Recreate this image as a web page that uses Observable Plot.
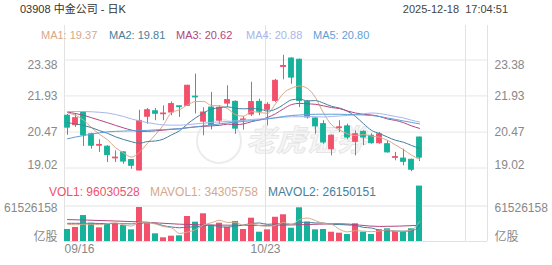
<!DOCTYPE html>
<html><head><meta charset="utf-8">
<script src="https://cdn.jsdelivr.net/npm/d3@7"></script>
<script src="https://cdn.jsdelivr.net/npm/@observablehq/plot@0.6"></script>
<style>
body{margin:0;background:#fff;}
#wrap{position:relative;width:552px;height:265px;overflow:hidden;font-family:"Liberation Sans",Arial,"Noto Sans CJK SC",sans-serif;background:#fff;}
#wrap svg{position:absolute;left:0;top:0;}
.t{position:absolute;white-space:nowrap;line-height:14px;}
.wm{position:absolute;left:246px;top:121px;font-family:"Noto Sans CJK SC",sans-serif;font-size:30px;font-weight:bold;font-style:italic;color:#f5f5f5;-webkit-text-stroke:0.7px #e2e2e2;white-space:nowrap;line-height:34px;}
.wmc{position:absolute;left:196px;top:118px;width:42px;height:42px;border:2px solid #ececec;border-radius:50%;}
</style></head><body><div id="wrap"><div class="wmc"></div><div class="wm">老虎证券</div></div>
<script>
// ---- data ----
const opens  = [21.13,20.75,21.26,20.38,19.92,19.88,19.41,19.65,19.34,18.92,21.09,21.31,21.19,21.26,21.51,21.53,21.90,20.89,21.46,20.93,21.62,21.69,20.95,21.18,21.69,21.37,21.73,23.10,23.44,23.39,21.69,21.02,20.79,19.78,20.63,20.70,20.08,20.48,20.32,20.02,19.98,19.43,19.40,19.35,20.25];
const highs  = [21.18,21.22,21.30,20.42,20.16,19.92,19.71,19.67,19.36,21.35,21.42,21.42,21.53,21.69,21.52,22.36,22.81,21.45,22.07,21.53,22.34,21.73,21.10,22.48,21.80,21.66,22.60,23.57,23.46,23.42,21.75,21.05,20.93,20.36,20.93,20.79,20.52,20.52,20.40,20.45,20.12,19.65,19.78,19.38,20.27];
const lows   = [20.34,20.66,19.89,19.78,19.65,19.24,19.24,19.17,18.97,18.90,20.79,20.93,20.93,21.13,21.06,21.50,21.20,20.32,20.56,20.79,21.46,20.38,20.55,21.10,21.13,20.72,21.66,22.58,22.40,21.46,21.00,20.38,19.98,19.51,20.45,20.16,19.51,19.92,19.98,19.98,19.62,19.31,19.11,18.87,19.28];
const closes = [20.65,21.03,20.34,19.92,19.95,19.54,19.44,19.28,19.11,20.92,21.35,21.21,21.22,21.60,21.48,22.34,21.87,21.26,20.75,21.45,21.76,20.61,20.98,21.68,21.29,21.57,22.54,23.14,22.67,21.73,21.06,20.70,20.05,20.32,20.66,20.25,20.38,20.25,20.02,20.38,19.65,19.46,19.27,18.95,19.44];
const volumes = [20800000,24300000,45000000,31700000,23700000,30700000,30700000,27700000,20200000,58900000,30700000,13300000,6400000,9200000,9800000,43300000,33500000,48000000,27700000,31700000,24800000,34700000,20800000,40400000,16100000,20200000,42000000,46300000,23000000,58400000,33500000,20200000,20800000,16100000,14400000,12100000,30700000,16100000,12100000,20200000,22000000,17300000,17300000,22000000,96030528];

const ma1 = [21.25,21.15,20.95,20.65,20.38,20.16,19.84,19.63,19.46,19.66,20.02,20.37,20.76,21.26,21.37,21.57,21.70,21.71,21.54,21.53,21.42,21.17,21.11,21.30,21.26,21.23,21.61,22.04,22.24,22.33,22.23,21.86,21.24,20.77,20.56,20.40,20.33,20.37,20.31,20.26,20.14,19.95,19.76,19.54,19.37];
const ma2 = [20.85,20.80,20.74,20.65,20.53,20.42,20.28,20.17,20.08,20.02,20.09,20.11,20.19,20.36,20.52,20.80,21.04,21.24,21.40,21.45,21.49,21.43,21.41,21.42,21.40,21.32,21.39,21.58,21.77,21.80,21.73,21.74,21.64,21.51,21.44,21.31,21.10,20.81,20.54,20.41,20.27,20.14,20.06,19.93,19.81];
const ma3 = [21.28,21.22,21.15,21.05,20.95,20.85,20.74,20.64,20.55,20.50,20.50,20.52,20.55,20.58,20.60,20.65,20.68,20.70,20.72,20.74,20.79,20.77,20.80,20.89,20.96,21.06,21.21,21.41,21.58,21.63,21.61,21.59,21.53,21.46,21.42,21.32,21.24,21.19,21.16,21.10,21.00,20.94,20.85,20.72,20.62];
const ma4 = [21.30,21.30,21.30,21.29,21.27,21.24,21.18,21.10,21.00,20.92,20.85,20.80,20.76,20.75,20.75,20.77,20.80,20.83,20.86,20.88,20.90,20.92,20.95,20.98,21.00,21.02,21.04,21.07,21.09,21.09,21.10,21.09,21.08,21.10,21.12,21.14,21.17,21.21,21.24,21.22,21.16,21.10,21.04,20.95,20.88];
const ma5 = [20.20,20.27,20.33,20.39,20.44,20.48,20.50,20.51,20.52,20.53,20.54,20.56,20.57,20.59,20.61,20.64,20.68,20.72,20.76,20.80,20.84,20.87,20.90,20.93,20.96,21.00,21.05,21.10,21.14,21.16,21.18,21.19,21.19,21.19,21.19,21.18,21.17,21.16,21.14,21.10,21.04,20.98,20.92,20.86,20.80];

const mavol1 = [30,29,30,30,29.1,31.1,32.4,28.9,26.6,33.6,33.6,30.2,25.9,23.7,13.9,16.4,20.4,28.8,32.5,36.8,33.1,33.4,27.9,30.5,27.4,26.4,27.9,33.0,29.5,38.0,40.6,36.3,31.2,29.8,21.0,16.7,18.8,17.9,17.1,18.2,20.2,17.5,17.8,19.8,34.31];
const mavol2 = [31.5,31.5,31.5,31.5,31.2,31.0,31.0,30.8,30.5,31.4,32.4,31.3,27.4,25.2,23.8,25.0,25.3,27.3,28.1,25.4,24.8,26.9,28.4,31.5,32.1,29.8,30.6,30.5,30.0,32.7,33.5,32.1,32.1,29.7,29.5,28.7,27.6,24.5,23.4,19.6,18.5,18.2,17.8,18.4,26.15];
const mavol3Idx = [0,5,9,14,19,24,29,34,39,44];
const mavol3 = [38,36,34,30,28.4,27.9,29.0,30.8,26.1,28.0];

const priceTicks = [23.38,21.93,20.47,19.02];
const volTicks = [61526158,0];
const volTickLabels = ["61526158","亿股"];
const xGrid = [-0.375,24.75,49.75,52.5];
const xTickPos = [-0.375,24.75];
const xTickLabels = ["09/16","10/23"];

const maNames = ["MA1","MA2","MA3","MA4","MA5"];
const maLast = ["19.37","19.81","20.62","20.88","20.80"];
const maColors = ["#d6a88b","#457f9a","#b2467f","#a9b5ea","#5e9fd6"];
const RED = "#f2506b", TEAL = "#16b29c";

// ---- build ----
const candles = closes.map((c,i)=>({i, open:opens[i], high:highs[i], low:lows[i], close:c, vol:volumes[i]}));
const col = d => d.close >= d.open ? RED : TEAL;
const mas = [ma1,ma2,ma3,ma4,ma5];
const FONT = "'Liberation Sans',Arial,'Noto Sans CJK SC',sans-serif";
const X = {domain:[-0.375,52.5], axis:null};
const common = {width:552,height:265,marginLeft:64,marginRight:65,marginTop:25,marginBottom:24,
  style:{background:"transparent",fontFamily:FONT,fontSize:"12px"}};

const p1 = Plot.plot({
  ...common,
  x:X,
  y:{domain:[19.02,23.38], range:[167.5,59.5], axis:null},
  marks:[
    Plot.ruleX(xGrid,{x:d=>d, stroke:"#e2e2e2"}),
    Plot.ruleY(priceTicks,{y:d=>d, stroke:"#e6e6e6"}),
    Plot.text(priceTicks.slice(1,3),{y:d=>d,text:d=>d.toFixed(2),frameAnchor:"left",textAnchor:"end",dx:-7,fill:"#888"}),
    Plot.text(priceTicks.slice(0,1),{y:d=>d,text:d=>d.toFixed(2),frameAnchor:"left",textAnchor:"end",dx:-7,dy:5,fill:"#888"}),
    Plot.text(priceTicks.slice(3),{y:d=>d,text:d=>d.toFixed(2),frameAnchor:"left",textAnchor:"end",dx:-7,dy:-2.5,fill:"#888"}),
    Plot.text(priceTicks.slice(1,3),{y:d=>d,text:d=>d.toFixed(2),frameAnchor:"right",textAnchor:"start",dx:7,fill:"#888"}),
    Plot.text(priceTicks.slice(0,1),{y:d=>d,text:d=>d.toFixed(2),frameAnchor:"right",textAnchor:"start",dx:7,dy:5,fill:"#888"}),
    Plot.text(priceTicks.slice(3),{y:d=>d,text:d=>d.toFixed(2),frameAnchor:"right",textAnchor:"start",dx:7,dy:-2.5,fill:"#888"}),
    Plot.ruleX(candles,{x:"i",y1:"low",y2:"high",stroke:col,strokeWidth:1}),
    Plot.rect(candles,{x1:d=>d.i-0.3,x2:d=>d.i+0.3,y1:"open",y2:"close",fill:col,stroke:col,strokeWidth:1}),
    ...mas.map((m,k)=>Plot.lineY(m,{x:(d,i)=>i,y:d=>d,stroke:maColors[k],strokeWidth:1,curve:"monotone-x"}))
  ]
});

const p2 = Plot.plot({
  ...common,
  x:X,
  y:{domain:[0,61526158], range:[241,205.5], axis:null},
  marks:[
    Plot.ruleY(volTicks,{y:d=>d, stroke:"#e2e2e2"}),
    Plot.text(volTicks.slice(0,1),{y:d=>d,text:(d,i)=>volTickLabels[i],frameAnchor:"left",textAnchor:"end",dx:-7,dy:2,fill:"#888"}),
    Plot.text(volTicks.slice(1),{y:d=>d,text:(d,i)=>volTickLabels[i+1],frameAnchor:"left",textAnchor:"end",dx:-7,dy:-4.5,fill:"#888"}),
    Plot.text(volTicks.slice(0,1),{y:d=>d,text:(d,i)=>volTickLabels[i],frameAnchor:"right",textAnchor:"start",dx:7,dy:2,fill:"#888"}),
    Plot.text(volTicks.slice(1),{y:d=>d,text:(d,i)=>volTickLabels[i+1],frameAnchor:"right",textAnchor:"start",dx:7,dy:-4.5,fill:"#888"}),
    Plot.rect(candles,{x1:d=>d.i-0.375,x2:d=>d.i+0.375,y1:0,y2:"vol",fill:col}),
    Plot.lineY(mavol3,{x:(d,i)=>mavol3Idx[i],y:d=>d*1e6,stroke:"#b2467f",strokeWidth:1,curve:"monotone-x"}),
    Plot.lineY(mavol2,{x:(d,i)=>i,y:d=>d*1e6,stroke:"#457f9a",strokeWidth:1,curve:"monotone-x"}),
    Plot.lineY(mavol1,{x:(d,i)=>i,y:d=>d*1e6,stroke:"#d6a88b",strokeWidth:1,curve:"monotone-x"}),
    Plot.text(xTickPos.slice(0,1),{x:d=>d,text:(d,i)=>xTickLabels[i],frameAnchor:"bottom",textAnchor:"start",dy:11,fill:"#888"}),
    Plot.text(xTickPos.slice(1),{x:d=>d,text:(d,i)=>xTickLabels[i+1],frameAnchor:"bottom",textAnchor:"middle",dy:11,fill:"#888"})
  ]
});

const wrap = document.getElementById("wrap");
wrap.appendChild(p1);
wrap.appendChild(p2);

function addText(txt, left, top, size, color, right){
  const s = document.createElement("div");
  s.className = "t";
  s.textContent = txt;
  if (right != null) { s.style.right = right+"px"; } else { s.style.left = left+"px"; }
  s.style.top = top+"px";
  s.style.fontSize = size+"px";
  s.style.color = color;
  wrap.appendChild(s);
}
addText("03908 中金公司 - 日K", 20, 2, 11, "#333");
addText("2025-12-18\u00a0\u00a017:04:51", null, 2, 11, "#444", 44);
const maLeft = [41,109,176,246,313];
maNames.forEach((n,k)=>addText(n+": "+maLast[k], maLeft[k], 27.5, 11, maColors[k]));
const volLegend = [["VOL1: 96030528",49,RED],["MAVOL1: 34305758",150,"#d6a88b"],["MAVOL2: 26150151",268,"#457f9a"]];
volLegend.forEach(([t,l,c])=>addText(t,l,184.5,12,c));
</script></body></html>
